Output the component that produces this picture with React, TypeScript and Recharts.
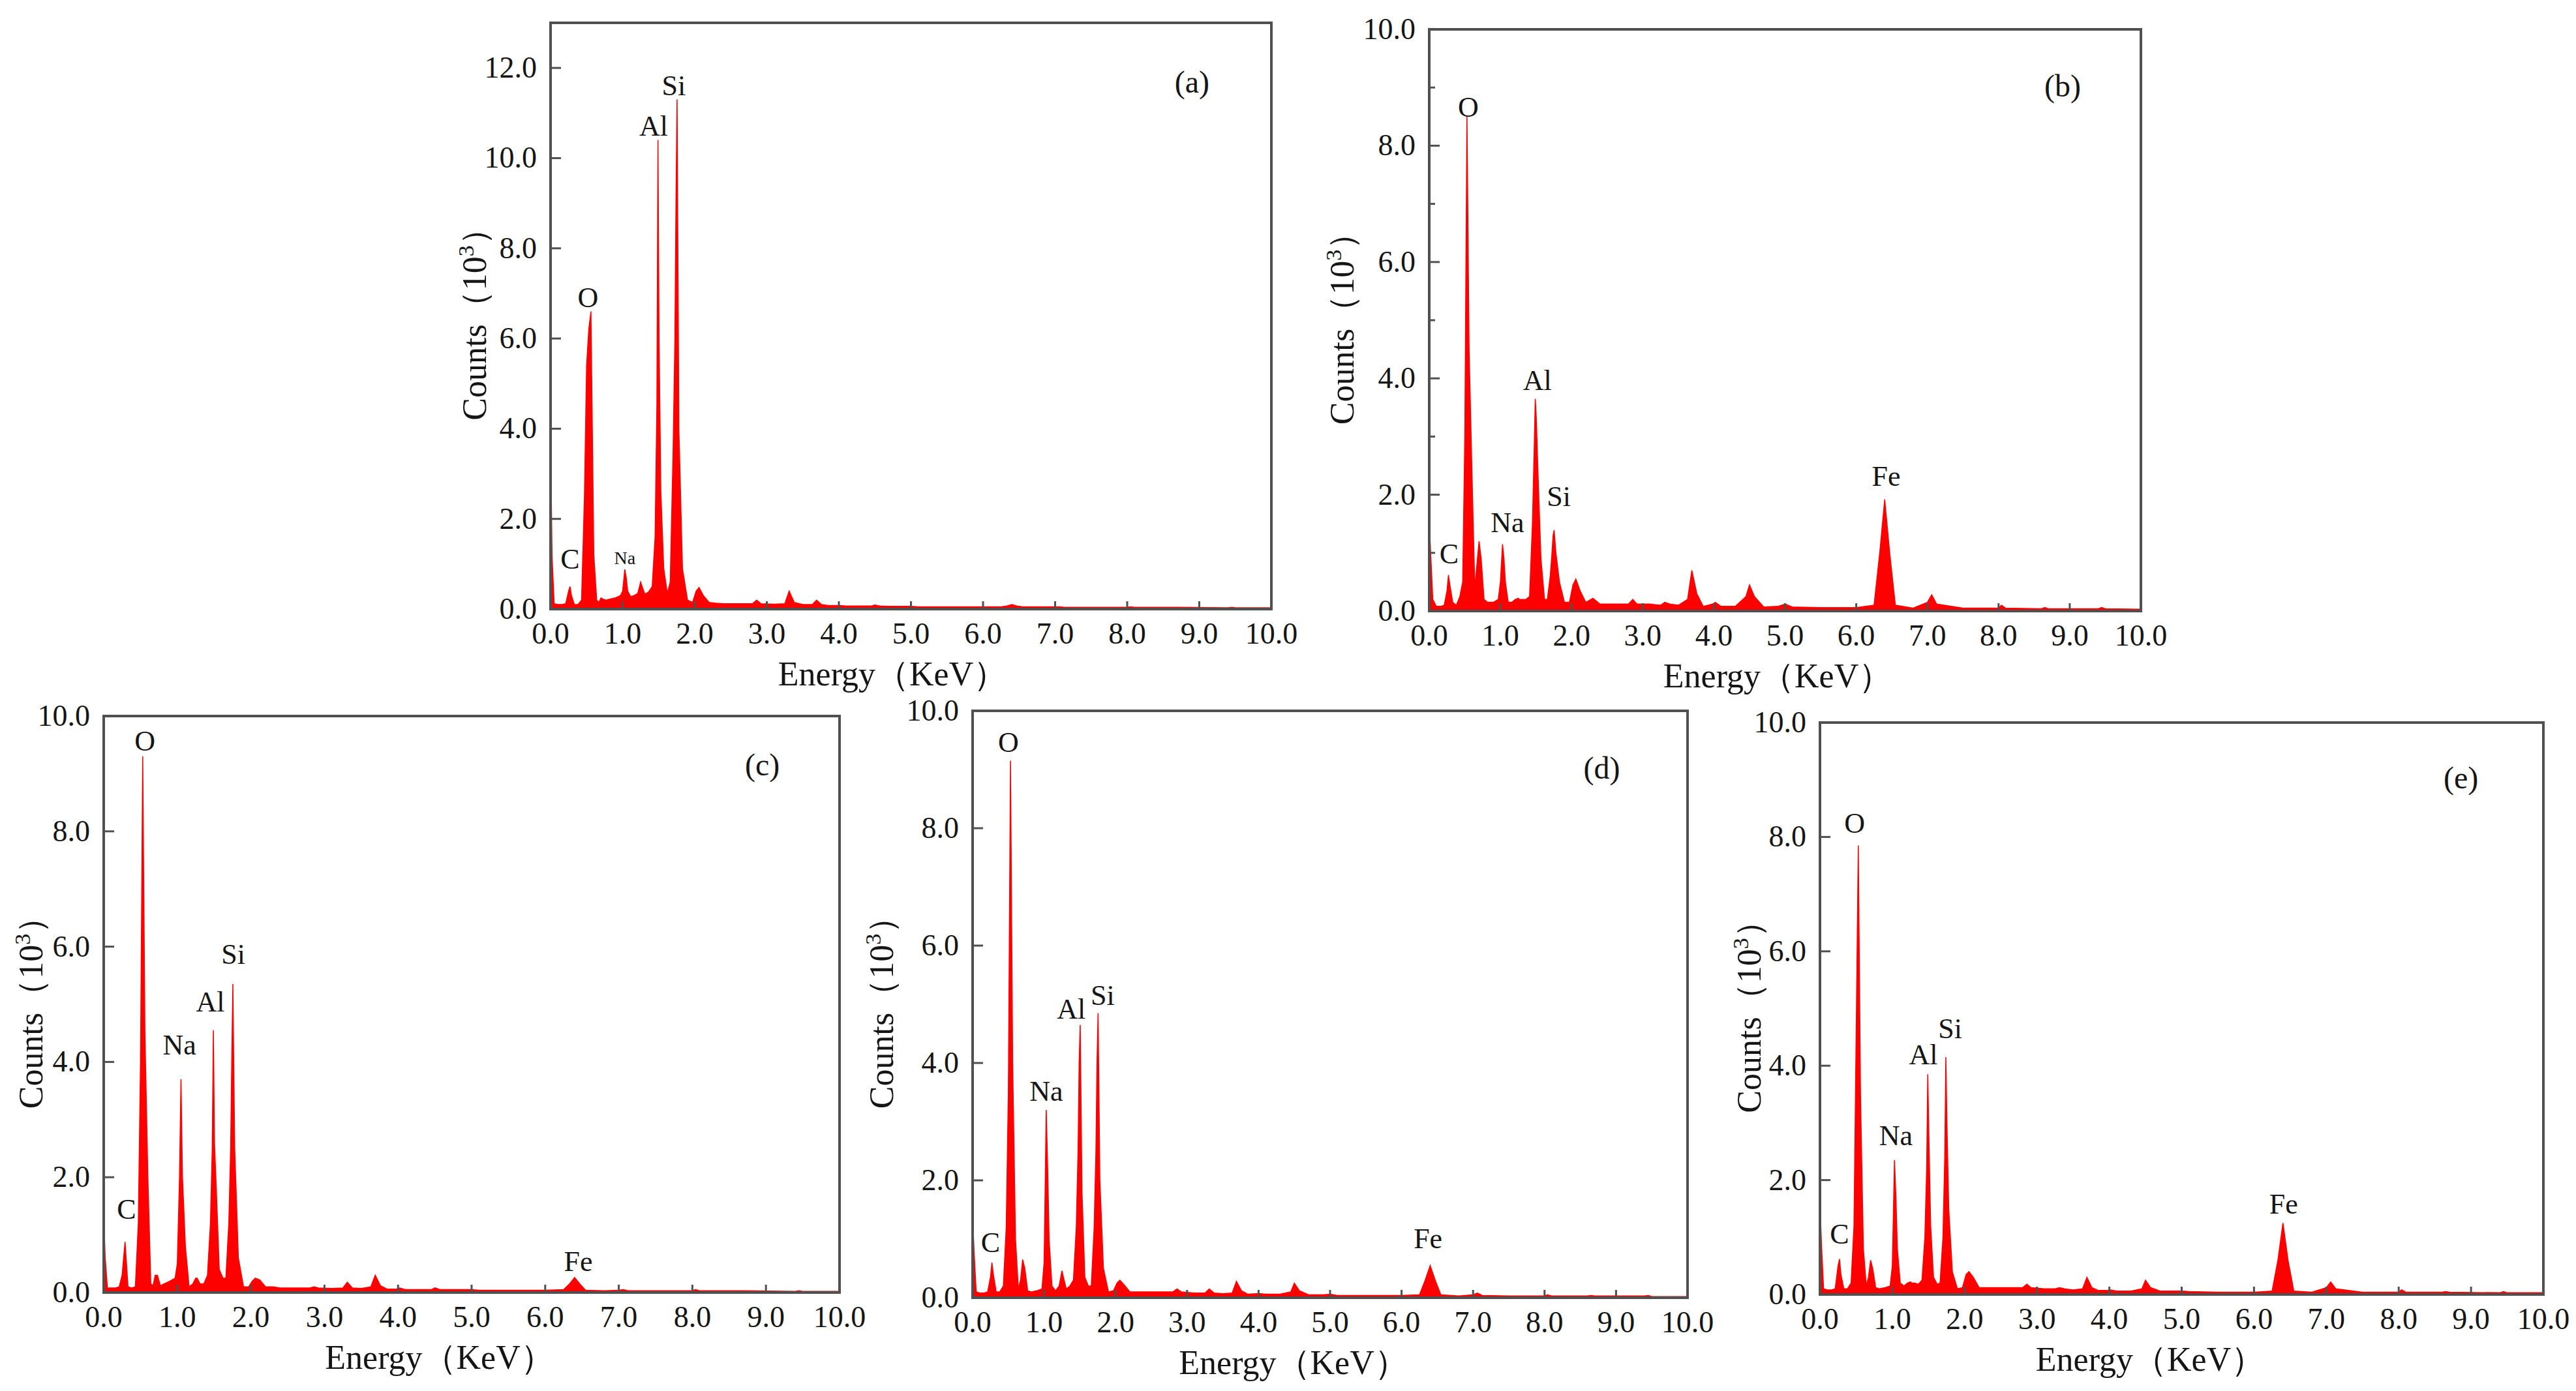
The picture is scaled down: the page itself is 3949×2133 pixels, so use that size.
import React from "react";
import { AreaChart, Area, XAxis, YAxis, ReferenceArea, ReferenceDot } from "recharts";

// energy grid (KeV), shared by all five spectra
const energies = [
  0, 0.02, 0.05, 0.1, 0.16,
  0.21, 0.25, 0.27, 0.29, 0.33,
  0.38, 0.43,
  0.47, 0.5, 0.53, 0.56, 0.6, 0.64,
  0.67, 0.7, 0.73, 0.77,
  0.82, 0.9, 0.97,
  1.0, 1.03, 1.05, 1.07, 1.11,
  1.16, 1.21,
  1.25, 1.27, 1.31,
  1.36, 1.41,
  1.45, 1.475, 1.49, 1.505, 1.53, 1.57,
  1.62, 1.66,
  1.7, 1.725, 1.74, 1.755, 1.78, 1.83,
  1.9, 1.97,
  2.02, 2.06, 2.12, 2.2,
  2.3, 2.4, 2.6, 2.8, 2.86, 2.92,
  3.1, 3.25, 3.31, 3.38, 3.5,
  3.63, 3.69, 3.76, 3.85,
  3.98, 4.02, 4.1, 4.3,
  4.45, 4.5, 4.57, 4.7, 4.9,
  5.0, 5.1, 5.5, 6.0,
  6.25, 6.33, 6.4, 6.47, 6.55,
  6.8, 7.0, 7.06, 7.13, 7.5,
  8.0, 8.04, 8.1, 8.6, 8.65, 8.7,
  9.4, 9.45, 9.5, 10.0,
];

// counts (10^3) per spectrum
const countsA = [
  3.9, 1.2, 0.12, 0.1, 0.1,
  0.12, 0.4, 0.5, 0.3, 0.1,
  0.1, 0.2,
  2.5, 5.4, 6.2, 6.6, 1.2, 0.2,
  0.15, 0.25, 0.22, 0.2,
  0.22, 0.25, 0.3,
  0.4, 0.88, 0.7, 0.4, 0.28,
  0.3, 0.35,
  0.6, 0.5, 0.33,
  0.38, 0.5,
  1.6, 4.5, 10.4, 6.0, 2.6, 0.9,
  0.35, 0.6,
  3.5, 6.0, 9.0, 11.3, 4.0, 0.9,
  0.2, 0.15,
  0.4, 0.48, 0.3, 0.15,
  0.13, 0.12, 0.12, 0.12, 0.2, 0.12,
  0.11, 0.12, 0.4, 0.15, 0.1,
  0.1, 0.2, 0.1, 0.08,
  0.08, 0.08, 0.07, 0.07,
  0.07, 0.09, 0.07, 0.06, 0.06,
  0.06, 0.05, 0.05, 0.05,
  0.05, 0.07, 0.1, 0.07, 0.05,
  0.05, 0.05, 0.05, 0.04, 0.04,
  0.04, 0.05, 0.04, 0.04, 0.04, 0.04,
  0.03, 0.04, 0.03, 0.03,
];

const countsB = [
  1.55, 1.0, 0.2, 0.08, 0.08,
  0.1, 0.35, 0.62, 0.45, 0.15,
  0.1, 0.25,
  0.5, 3.0, 8.5, 4.5, 2.4, 0.4,
  0.8, 1.2, 0.9, 0.2,
  0.15, 0.15, 0.2,
  0.5, 1.15, 0.9, 0.5, 0.15,
  0.15, 0.2,
  0.22, 0.2, 0.2,
  0.2, 0.25,
  1.5, 2.8, 3.65, 3.3, 2.3, 0.9,
  0.2, 0.2,
  0.6, 1.0, 1.3, 1.39, 1.0, 0.5,
  0.15, 0.15,
  0.45, 0.55, 0.35, 0.15,
  0.22, 0.12, 0.12, 0.12, 0.2, 0.12,
  0.12, 0.1, 0.15, 0.12, 0.1,
  0.2, 0.7, 0.3, 0.08,
  0.12, 0.15, 0.08, 0.08,
  0.25, 0.45, 0.25, 0.07, 0.08,
  0.12, 0.07, 0.06, 0.06,
  0.1, 1.0, 1.92, 1.0, 0.1,
  0.05, 0.15, 0.28, 0.12, 0.05,
  0.05, 0.1, 0.05, 0.04, 0.06, 0.04,
  0.04, 0.06, 0.04, 0.03,
];

const countsC = [
  1.35, 0.6, 0.08, 0.08, 0.08,
  0.1, 0.3, 0.6, 0.88, 0.1,
  0.08, 0.1,
  1.2, 4.0, 9.3, 4.5, 2.0, 0.15,
  0.12, 0.3, 0.3, 0.12,
  0.15, 0.2, 0.25,
  0.5, 2.0, 3.7, 2.0, 0.8,
  0.1, 0.15,
  0.25, 0.25, 0.15,
  0.15, 0.3,
  1.2, 2.5, 4.55, 2.6, 1.8, 0.4,
  0.25, 0.25,
  1.2, 2.5, 4.0, 5.35, 2.5, 0.6,
  0.1, 0.1,
  0.2, 0.25, 0.22, 0.1,
  0.1, 0.08, 0.08, 0.08, 0.1, 0.08,
  0.07, 0.08, 0.18, 0.08, 0.07,
  0.1, 0.3, 0.12, 0.06,
  0.06, 0.08, 0.05, 0.05,
  0.05, 0.08, 0.05, 0.05, 0.05,
  0.05, 0.04, 0.04, 0.04,
  0.05, 0.15, 0.26, 0.15, 0.04,
  0.03, 0.04, 0.05, 0.03, 0.03,
  0.03, 0.05, 0.03, 0.03, 0.03, 0.03,
  0.02, 0.03, 0.02, 0.02,
];

const countsD = [
  1.4, 0.8, 0.1, 0.08, 0.08,
  0.1, 0.35, 0.6, 0.4, 0.1,
  0.1, 0.2,
  1.2, 3.5, 9.15, 4.0, 1.0, 0.15,
  0.3, 0.65, 0.5, 0.12,
  0.1, 0.12, 0.15,
  0.6, 3.2, 2.2, 1.0, 0.2,
  0.12, 0.2,
  0.46, 0.35, 0.15,
  0.2, 0.3,
  1.2, 2.5, 4.0, 4.65, 1.8, 0.35,
  0.2, 0.2,
  1.2, 2.5, 4.0, 4.85, 2.0, 0.5,
  0.1, 0.12,
  0.25, 0.3, 0.22, 0.1,
  0.1, 0.1, 0.1, 0.1, 0.15, 0.1,
  0.08, 0.08, 0.15, 0.08, 0.07,
  0.08, 0.28, 0.12, 0.06,
  0.07, 0.07, 0.06, 0.06,
  0.1, 0.25, 0.12, 0.05, 0.05,
  0.06, 0.04, 0.04, 0.04,
  0.05, 0.3, 0.55, 0.3, 0.05,
  0.03, 0.05, 0.08, 0.04, 0.03,
  0.03, 0.05, 0.03, 0.03, 0.04, 0.03,
  0.03, 0.04, 0.02, 0.02,
];

const countsE = [
  1.6, 0.9, 0.1, 0.08, 0.08,
  0.1, 0.5, 0.62, 0.35, 0.1,
  0.1, 0.2,
  1.2, 4.5, 7.85, 3.5, 0.8, 0.15,
  0.3, 0.6, 0.45, 0.12,
  0.1, 0.12, 0.15,
  0.5, 2.35, 1.7, 0.8, 0.2,
  0.15, 0.2,
  0.22, 0.2, 0.2,
  0.18, 0.25,
  1.0, 2.2, 3.85, 2.8, 1.2, 0.3,
  0.18, 0.2,
  1.0, 2.4, 4.15, 3.0, 1.5, 0.4,
  0.1, 0.12,
  0.35, 0.4, 0.3, 0.12,
  0.12, 0.12, 0.12, 0.12, 0.18, 0.12,
  0.1, 0.1, 0.12, 0.1, 0.08,
  0.1, 0.3, 0.12, 0.07,
  0.07, 0.08, 0.06, 0.06,
  0.1, 0.25, 0.12, 0.06, 0.06,
  0.06, 0.05, 0.04, 0.04,
  0.06, 0.6, 1.25, 0.6, 0.06,
  0.04, 0.12, 0.22, 0.1, 0.04,
  0.04, 0.08, 0.04, 0.04, 0.05, 0.04,
  0.03, 0.05, 0.03, 0.03,
];

const xTicks = [0, 1, 2, 3, 4, 5, 6, 7, 8, 9, 10];
const yTicksA = [0, 2, 4, 6, 8, 10, 12];
const yTicksB = [0, 1, 2, 3, 4, 5, 6, 7, 8, 9, 10];
const yTicks10 = [0, 2, 4, 6, 8, 10];

type Note = { t: string; e: number; c: number; size?: number };

// element labels: text, energy, counts at baseline
const notesA: Note[] = [
  { t: "C", e: 0.27, c: 0.9 },
  { t: "Na", e: 1.03, c: 1.0, size: 28 },
  { t: "O", e: 0.52, c: 6.7 },
  { t: "Al", e: 1.43, c: 10.5 },
  { t: "Si", e: 1.71, c: 11.4 },
  { t: "(a)", e: 8.9, c: 11.45, size: 48 },
];
const notesB: Note[] = [
  { t: "C", e: 0.28, c: 0.82 },
  { t: "O", e: 0.55, c: 8.5 },
  { t: "Na", e: 1.1, c: 1.36 },
  { t: "Al", e: 1.52, c: 3.8 },
  { t: "Si", e: 1.82, c: 1.8 },
  { t: "Fe", e: 6.42, c: 2.15 },
  { t: "(b)", e: 8.9, c: 8.85, size: 48 },
];
const notesC: Note[] = [
  { t: "C", e: 0.31, c: 1.28 },
  { t: "O", e: 0.56, c: 9.4 },
  { t: "Na", e: 1.03, c: 4.13 },
  { t: "Al", e: 1.45, c: 4.87 },
  { t: "Si", e: 1.76, c: 5.7 },
  { t: "Fe", e: 6.45, c: 0.37 },
  { t: "(c)", e: 8.95, c: 8.97, size: 48 },
];
const notesD: Note[] = [
  { t: "C", e: 0.25, c: 0.78 },
  { t: "O", e: 0.5, c: 9.3 },
  { t: "Na", e: 1.03, c: 3.36 },
  { t: "Al", e: 1.38, c: 4.76 },
  { t: "Si", e: 1.82, c: 4.99 },
  { t: "Fe", e: 6.37, c: 0.84 },
  { t: "(d)", e: 8.8, c: 8.85, size: 48 },
];
const notesE: Note[] = [
  { t: "C", e: 0.27, c: 0.89 },
  { t: "O", e: 0.48, c: 8.07 },
  { t: "Na", e: 1.05, c: 2.61 },
  { t: "Al", e: 1.43, c: 4.02 },
  { t: "Si", e: 1.8, c: 4.48 },
  { t: "Fe", e: 6.41, c: 1.41 },
  { t: "(e)", e: 8.86, c: 8.85, size: 48 },
];

const SERIF = "'Liberation Serif', 'Times New Roman', serif";
const FRAME = "#505050";
const INK = "#151515";
const RED = "#ff0000";

// chart margins around the plot box
const ML = 220;
const MR = 70;
const MT = 60;
const MB = 150;

type PanelProps = {
  left: number;
  top: number;
  right: number;
  bottom: number;
  yMax: number;
  yTicks: number[];
  counts: number[];
  notes: Note[];
};

function Panel(p: PanelProps) {
  const data = energies.map((e, i) => ({ e, c: p.counts[i] }));
  const w = p.right - p.left;
  const h = p.bottom - p.top;

  const renderXTick = (props: any) => {
    const { x, y, payload } = props;
    const v = payload.value;
    return (
      <g>
        {v > 0 && v < 10 && (
          <line x1={x} x2={x} y1={y} y2={y - 12} stroke={FRAME} strokeWidth={3} />
        )}
        <text x={x} y={y + 53} textAnchor="middle" fontFamily={SERIF} fontSize={46} fill={INK}>
          {v.toFixed(1)}
        </text>
      </g>
    );
  };

  const renderYTick = (props: any) => {
    const { x, y, payload } = props;
    const v = payload.value;
    const major = v % 2 === 0;
    return (
      <g>
        {v > 0 && v < p.yMax && (
          <line x1={x} x2={x + (major ? 16 : 9)} y1={y} y2={y} stroke={FRAME} strokeWidth={3} />
        )}
        {major && (
          <text x={x - 21} y={y + 15} textAnchor="end" fontFamily={SERIF} fontSize={46} fill={INK}>
            {v.toFixed(1)}
          </text>
        )}
      </g>
    );
  };

  return (
    <div style={{ position: "absolute", left: p.left - ML, top: p.top - MT }}>
      <AreaChart
        width={w + ML + MR}
        height={h + MT + MB}
        data={data}
        margin={{ top: MT, right: MR, left: 0, bottom: 0 }}
      >
        <XAxis
          dataKey="e"
          type="number"
          domain={[0, 10]}
          ticks={xTicks}
          interval={0}
          allowDataOverflow
          height={MB}
          tickSize={0}
          tickMargin={0}
          tickLine={false}
          axisLine={false}
          tick={renderXTick}
        />
        <YAxis
          type="number"
          domain={[0, p.yMax]}
          ticks={p.yTicks}
          interval={0}
          allowDataOverflow
          width={ML}
          tickSize={0}
          tickMargin={0}
          tickLine={false}
          axisLine={false}
          tick={renderYTick}
        />
        <Area
          type="linear"
          dataKey="c"
          baseValue={0}
          stroke={RED}
          strokeWidth={1.5}
          fill={RED}
          fillOpacity={1}
          dot={false}
          activeDot={false}
          isAnimationActive={false}
        />
        <ReferenceArea
          x1={0}
          x2={10}
          y1={0}
          y2={p.yMax}
          fill="none"
          fillOpacity={0}
          stroke={FRAME}
          strokeWidth={4}
          ifOverflow="visible"
        />
        {p.notes.map((n) => (
          <ReferenceDot
            key={n.t}
            x={n.e}
            y={n.c}
            r={0}
            ifOverflow="visible"
            shape={(s: any) => (
              <text
                x={s.cx}
                y={s.cy}
                textAnchor="middle"
                fontFamily={SERIF}
                fontSize={n.size ?? 44}
                fill={INK}
              >
                {n.t}
              </text>
            )}
          />
        ))}
      </AreaChart>
    </div>
  );
}

// plot boxes in page pixels, with title offsets
const panels = [
  { key: "a", left: 844, top: 35, right: 1949, bottom: 934, yMax: 13, yTicks: yTicksA, counts: countsA, notes: notesA, yDx: -116, xDx: -28 },
  { key: "b", left: 2191, top: 45, right: 3282, bottom: 937, yMax: 10, yTicks: yTicksB, counts: countsB, notes: notesB, yDx: -133, xDx: -11 },
  { key: "c", left: 159, top: 1098, right: 1287, bottom: 1982, yMax: 10, yTicks: yTicks10, counts: countsC, notes: notesC, yDx: -111, xDx: -49 },
  { key: "d", left: 1491, top: 1090, right: 2587, bottom: 1990, yMax: 10, yTicks: yTicks10, counts: countsD, notes: notesD, yDx: -139, xDx: -56 },
  { key: "e", left: 2790, top: 1108, right: 3899, bottom: 1985, yMax: 10, yTicks: yTicks10, counts: countsE, notes: notesE, yDx: -108, xDx: -48 },
];

export default function App() {
  return (
    <div
      style={{
        position: "absolute",
        left: 0,
        top: 0,
        width: 3949,
        height: 2133,
        background: "#fff",
        overflow: "hidden",
      }}
    >
      {panels.map((p) => (
        <Panel
          key={p.key}
          left={p.left}
          top={p.top}
          right={p.right}
          bottom={p.bottom}
          yMax={p.yMax}
          yTicks={p.yTicks}
          counts={p.counts}
          notes={p.notes}
        />
      ))}
      <svg
        width={3949}
        height={2133}
        style={{ position: "absolute", left: 0, top: 0, pointerEvents: "none" }}
      >
        {panels.map((p) => {
          const cy = (p.top + p.bottom) / 2;
          const bx = p.left + p.yDx + 17;
          return (
            <g key={p.key} fontFamily={SERIF} fontSize={52} fill={INK}>
              <text x={(p.left + p.right) / 2 + p.xDx} y={p.bottom + 117} textAnchor="middle">
                Energy（KeV）
              </text>
              <text transform={`translate(${bx},${cy}) rotate(-90)`} textAnchor="middle">
                Counts（10
                <tspan dy={-19} fontSize={34}>3</tspan>
                <tspan dy={19}>）</tspan>
              </text>
            </g>
          );
        })}
      </svg>
    </div>
  );
}
